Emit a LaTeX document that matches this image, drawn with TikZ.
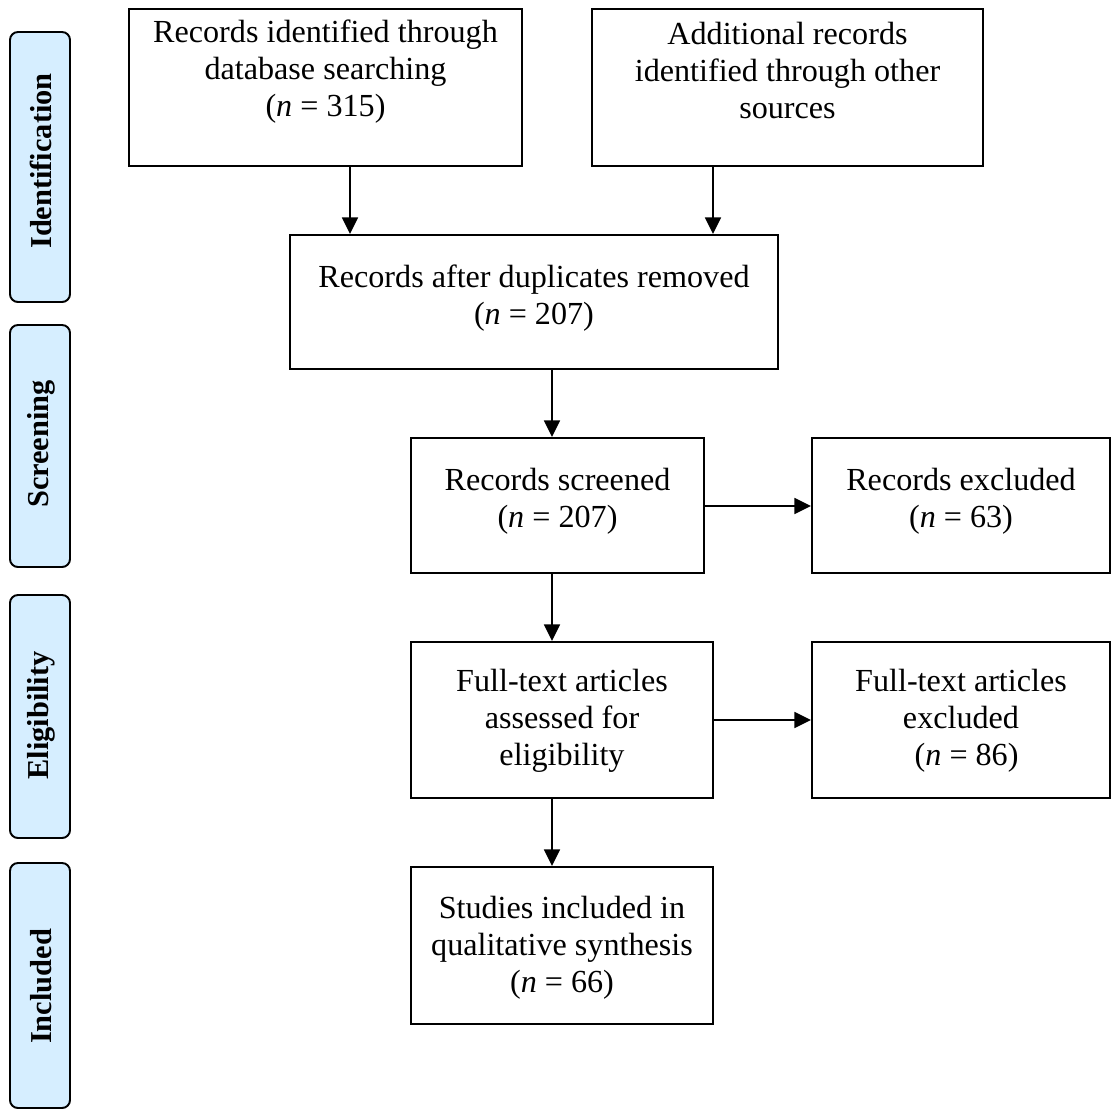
\documentclass[tikz,border=0pt]{standalone}
\usepackage{fontspec}
\setmainfont{Liberation Serif}
\usetikzlibrary{arrows.meta,calc}

\definecolor{phasefill}{RGB}{214,238,255}

\tikzset{
  flowbox/.style={draw=black, line width=1.1pt, fill=white, inner sep=0pt},
  flowtext/.style={align=center, inner sep=0pt, font=\fontsize{18.3}{21}\selectfont},
  phasebox/.style={draw=black, line width=1.1pt, fill=phasefill, rounded corners=4.5pt,
    rotate=90, inner sep=0pt},
  phasetext/.style={rotate=90, inner sep=0pt, font=\fontsize{17.3}{21}\selectfont\bfseries},
  arr/.style={line width=1.3pt, -{Triangle[length=9.5pt,width=9pt]}},
}

% box with corners (x1,y1)-(x2,y2), y measured downwards; #7 = text offset
\newcommand{\flowrect}[7]{%
  \node[flowbox, minimum width={(#4-#2)*0.02cm}, minimum height={(#5-#3)*0.02cm}]
    (#1) at ({(#2+#4)/2},{(#3+#5)/2}) {};
  \node[flowtext] (#1-t) at ({(#2+#4)/2},{(#3+#5)/2+#7}) {#6};}
% rounded phase tab: width, top, bottom, label, text offset
\newcommand{\phaserect}[6]{%
  \node[phasebox, minimum width={(#4-#3)*0.02cm}, minimum height={(#2)*0.02cm}]
    (#1) at (40,{(#3+#4)/2}) {};
  \node[phasetext] (#1-t) at (41,{(#3+#4)/2+#6}) {#5};}

\begin{document}
\begin{tikzpicture}[x=0.02cm, y=-0.02cm]
  \useasboundingbox (0,0) rectangle (1111,1113);

  % phase labels
  \phaserect{pid}{60}{32}{302}{Identification}{-6}
  \phaserect{psc}{60}{325}{567}{Screening}{-2}
  \phaserect{pel}{60}{595}{838}{Eligibility}{-1}
  \phaserect{pin}{60}{863}{1108}{Included}{1}

  % flow boxes
  \flowrect{b1}{129}{9}{522}{166}{Records identified through\\database searching\\(\textit{n} = 315)}{-16}
  \flowrect{b2}{592}{9}{983}{166}{Additional records\\identified through other\\sources}{-17}
  \flowrect{b3}{290}{235}{778}{369}{Records after duplicates removed\\(\textit{n} = 207)}{-4}
  \flowrect{b4}{411}{438}{704}{573}{Records screened\\(\textit{n} = 207)}{-4}
  \flowrect{b5}{812}{438}{1110}{573}{Records excluded\\(\textit{n} = 63)}{-4}
  \flowrect{b6}{411}{642}{713}{798}{Full-text articles\\assessed for\\eligibility}{1}
  \flowrect{b7}{812}{642}{1110}{798}{Full-text articles\\excluded\\\hspace*{0.35em}(\textit{n} = 86)}{1}
  \flowrect{b8}{411}{867}{713}{1024}{Studies included in\\qualitative synthesis\\(\textit{n} = 66)}{2}

  % connectors
  \draw[arr] (350,0 |- b1.south) -- (350,0 |- b3.north);
  \draw[arr] (713,0 |- b2.south) -- (713,0 |- b3.north);
  \draw[arr] (552,0 |- b3.south) -- (552,0 |- b4.north);
  \draw[arr] (0,506 -| b4.east) -- (0,506 -| b5.west);
  \draw[arr] (552,0 |- b4.south) -- (552,0 |- b6.north);
  \draw[arr] (0,720 -| b6.east) -- (0,720 -| b7.west);
  \draw[arr] (552,0 |- b6.south) -- (552,0 |- b8.north);
\end{tikzpicture}
\end{document}
